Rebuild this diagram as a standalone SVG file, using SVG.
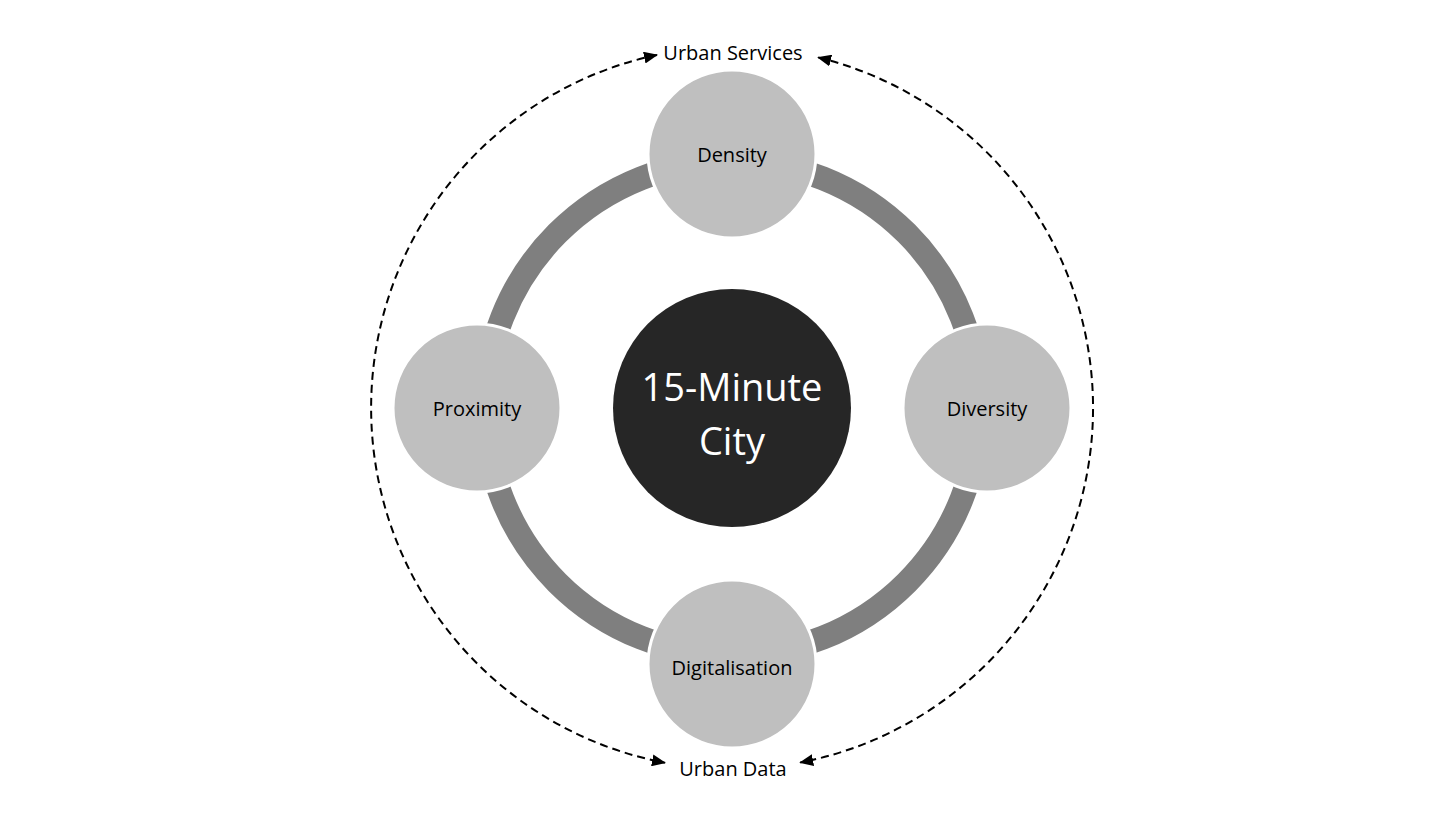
<svg xmlns="http://www.w3.org/2000/svg" width="1456" height="819" viewBox="0 0 1456 819">
<style>
text{font-family:"Open Sans","Liberation Sans",sans-serif;text-anchor:middle;dominant-baseline:central}
.n{fill:#bfbfbf;stroke:#fff;stroke-width:3}
.l{font-size:20px;fill:#000}
.d{fill:none;stroke:#000;stroke-width:2;stroke-dasharray:8 5}
</style>
<defs><marker id="a" markerWidth="14" markerHeight="12" refX="13" refY="6" orient="auto-start-reverse" markerUnits="userSpaceOnUse"><path d="M0,0L14,6L0,12z" fill="#000"/></marker></defs>
<rect width="1456" height="819" fill="#fff"/>
<g id="connectors">
<circle cx="732" cy="408" r="247" fill="none" stroke="#7f7f7f" stroke-width="24"/>
<path class="d" d="M657,54.9 A361,361 0 0 0 665,762.7" marker-start="url(#a)" marker-end="url(#a)"/>
<path class="d" d="M818.1,57.4 A361,361 0 0 1 800.2,762.5" marker-start="url(#a)" marker-end="url(#a)"/>
</g>
<g id="center"><circle cx="732" cy="408" r="119" fill="#262626"/><text x="732" y="386" font-size="38" fill="#fff">15-Minute</text><text x="732" y="440" font-size="38" fill="#fff">City</text></g>
<g id="density"><circle class="n" cx="732" cy="154" r="84"/><text class="l" x="732" y="154">Density</text></g>
<g id="diversity"><circle class="n" cx="987" cy="408" r="84"/><text class="l" x="987" y="408">Diversity</text></g>
<g id="digitalisation"><circle class="n" cx="732" cy="664" r="84"/><text class="l" x="732" y="667">Digitalisation</text></g>
<g id="proximity"><circle class="n" cx="477" cy="408" r="84"/><text class="l" x="477" y="408">Proximity</text></g>
<g id="services"><text class="l" x="733" y="52" font-size="18">Urban Services</text></g>
<g id="data"><text class="l" x="733" y="768" font-size="18">Urban Data</text></g>
</svg>
